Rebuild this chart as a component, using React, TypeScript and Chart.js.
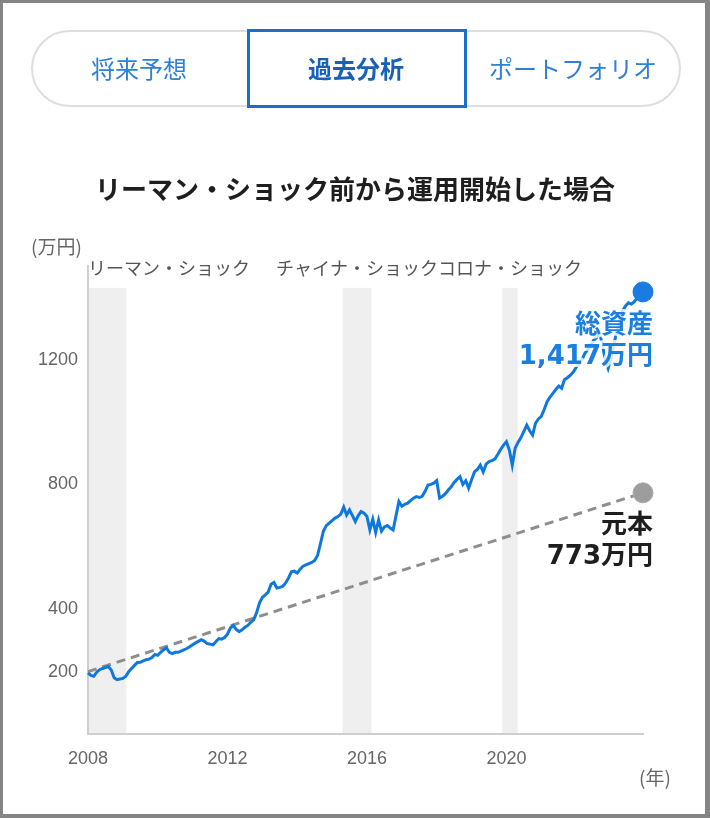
import React, { useEffect, useRef } from "react";
import { Chart, registerables } from "chart.js";

Chart.register(...registerables);

// ---- data ----
const START_YEAR = 2008;
const assets2008 = [196, 188, 185, 198, 206, 210, 213, 216, 205, 180, 174, 176];
const assets2009 = [178, 185, 200, 210, 220, 229, 230, 234, 238, 240, 245, 255];
const assets2010 = [252, 262, 270, 276, 262, 258, 262, 262, 266, 270, 274, 280];
const assets2011 = [286, 292, 297, 302, 298, 290, 288, 286, 296, 306, 304, 309];
const assets2012 = [320, 340, 348, 335, 328, 334, 342, 348, 358, 366, 388, 420];
const assets2013 = [438, 446, 455, 480, 486, 468, 470, 473, 484, 500, 520, 522];
const assets2014 = [516, 528, 538, 542, 546, 550, 556, 572, 610, 650, 668, 676];
const assets2015 = [684, 692, 697, 705, 727, 702, 718, 700, 681, 700, 713, 708];
const assets2016 = [697, 654, 688, 646, 686, 650, 664, 668, 660, 654, 700, 745];
const assets2017 = [730, 736, 740, 748, 756, 761, 758, 762, 778, 798, 800, 804];
const assets2018 = [812, 756, 762, 770, 782, 792, 806, 816, 825, 800, 812, 788];
const assets2019 = [815, 840, 848, 862, 840, 865, 873, 876, 881, 896, 912, 926];
const assets2020 = [937, 910, 862, 916, 935, 950, 970, 990, 972, 958, 996, 1010];
const assets2021 = [1018, 1040, 1065, 1080, 1092, 1104, 1115, 1108, 1136, 1142, 1150, 1160];
const assets2022 = [1175, 1186, 1200, 1220, 1232, 1246, 1262, 1270, 1285, 1250, 1200, 1172];
const assets2023 = [1205, 1250, 1290, 1326, 1356, 1372, 1382, 1378, 1386, 1397, 1405, 1417];

const totalAssets = [
  ...assets2008, ...assets2009, ...assets2010, ...assets2011,
  ...assets2012, ...assets2013, ...assets2014, ...assets2015,
  ...assets2016, ...assets2017, ...assets2018, ...assets2019,
  ...assets2020, ...assets2021, ...assets2022, ...assets2023,
];

const principalStart = 200;
const principalEnd = 773;

const xTickValues = [2008, 2012, 2016, 2020];
const yTickValues = [200, 400, 800, 1200];

const shockNames = ["リーマン・ショック", "チャイナ・ショック", "コロナ・ショック"];
const shockStarts = [2008.0, 2015.3, 2019.88];
const shockEnds = [2009.1, 2016.13, 2020.32];
const shockTopValue = 1430;

const tabLabels = ["将来予想", "過去分析", "ポートフォリオ"];
const chartTitle = "リーマン・ショック前から運用開始した場合";
const totalLabel = "総資産";
const principalLabel = "元本";
const yUnit = "(万円)";
const xUnit = "(年)";

const monthX = (i: number) => START_YEAR + i / 12;
const lastX = monthX(totalAssets.length - 1);

const JP = "'Noto Sans CJK JP', sans-serif";
const NUMJP = "'DejaVu Sans', 'Noto Sans CJK JP', sans-serif";
const BLUE = "#0f78dd";
const GRAY_LINE = "#8e8e8e";

function haloText(ctx: CanvasRenderingContext2D, text: string, x: number, y: number, color: string) {
  ctx.save();
  ctx.lineJoin = "round";
  ctx.strokeStyle = "rgba(255,255,255,0.8)";
  ctx.lineWidth = 6;
  ctx.strokeText(text, x, y);
  ctx.fillStyle = color;
  ctx.fillText(text, x, y);
  ctx.restore();
}

const bandsPlugin = {
  id: "bands",
  beforeDraw(chart: any) {
    const { ctx, chartArea, scales } = chart;
    const xs = scales.x;
    const ys = scales.y;
    const top = ys.getPixelForValue(shockTopValue);
    ctx.save();
    ctx.fillStyle = "#efefef";
    shockStarts.forEach((s, i) => {
      const x0 = xs.getPixelForValue(s);
      const x1 = xs.getPixelForValue(shockEnds[i]);
      ctx.fillRect(x0, top, x1 - x0, chartArea.bottom - top);
    });
    ctx.restore();
  },
  afterDraw(chart: any) {
    const { ctx, chartArea, scales } = chart;
    const xs = scales.x;
    const ys = scales.y;
    const top = ys.getPixelForValue(shockTopValue);
    ctx.save();
    // band labels
    ctx.font = `18px ${JP}`;
    ctx.fillStyle = "#555";
    ctx.textBaseline = "middle";
    shockNames.forEach((name, i) => {
      const c = (xs.getPixelForValue(shockStarts[i]) + xs.getPixelForValue(shockEnds[i])) / 2;
      const w = ctx.measureText(name).width;
      let left = c - w / 2;
      if (left < chartArea.left) left = chartArea.left;
      ctx.textAlign = "left";
      ctx.fillText(name, left, top - 20);
    });
    // units
    ctx.font = `19px ${JP}`;
    ctx.fillStyle = "#666";
    ctx.textAlign = "left";
    ctx.fillText(yUnit, 31, 247);
    ctx.fillText(xUnit, 639, 778);

    // end labels
    const tMeta = chart.getDatasetMeta(0);
    const pMeta = chart.getDatasetMeta(1);
    const tp = tMeta.data[tMeta.data.length - 1];
    const pp = pMeta.data[pMeta.data.length - 1];
    const lastTotal = totalAssets[totalAssets.length - 1];
    ctx.textAlign = "right";
    ctx.textBaseline = "middle";
    ctx.font = `bold 26px ${NUMJP}`;
    haloText(ctx, totalLabel, tp.x + 10, tp.y + 34, "#1a7fe0");
    haloText(ctx, `${lastTotal.toLocaleString("en-US")}万円`, tp.x + 10, tp.y + 65, "#1a7fe0");
    haloText(ctx, principalLabel, pp.x + 10, pp.y + 33, "#1e1e1e");
    haloText(ctx, `${principalEnd}万円`, pp.x + 10, pp.y + 64, "#1e1e1e");
    ctx.restore();
  },
};

function ChartCanvas() {
  const ref = useRef<HTMLCanvasElement | null>(null);
  useEffect(() => {
    if (!ref.current) return;
    const lastIdx = totalAssets.length - 1;
    const chart = new Chart(ref.current, {
      type: "line",
      data: {
        datasets: [
          {
            label: "総資産",
            data: totalAssets.map((v, i) => ({ x: monthX(i), y: v })),
            borderColor: BLUE,
            borderWidth: 3,
            tension: 0,
            clip: false as any,
            pointRadius: (c: any) => (c.dataIndex === lastIdx ? 10 : 0),
            pointBackgroundColor: "#1a7be3",
            pointBorderColor: "#1a7be3",
            pointBorderWidth: 1,
            pointHoverRadius: 0,
          },
          {
            label: "元本",
            data: [
              { x: START_YEAR, y: principalStart },
              { x: lastX, y: principalEnd },
            ],
            borderColor: GRAY_LINE,
            borderWidth: 3,
            borderDash: [9, 6],
            clip: false as any,
            pointRadius: (c: any) => (c.dataIndex === 1 ? 10 : 0),
            pointBackgroundColor: "#9d9d9d",
            pointBorderColor: "#ababab",
            pointBorderWidth: 1,
            pointHoverRadius: 0,
          },
        ],
      },
      options: {
        animation: false,
        responsive: false,
        events: [],
        layout: { padding: { left: 18, right: 67, top: 266, bottom: 44 } },
        plugins: { legend: { display: false }, tooltip: { enabled: false }, title: { display: false } },
        scales: {
          x: {
            type: "linear",
            min: START_YEAR,
            max: lastX,
            afterBuildTicks: (s: any) => {
              s.ticks = xTickValues.map((v) => ({ value: v }));
            },
            afterFit: (s: any) => {
              s.height = 40;
            },
            grid: { display: false, drawTicks: false },
            border: { display: true, color: "#cfcfcf", width: 2 },
            ticks: {
              autoSkip: false,
              maxRotation: 0,
              padding: 14,
              color: "#666",
              font: { family: "'Liberation Sans', Arial, sans-serif", size: 18 },
              callback: (v: any) => String(v),
            },
          },
          y: {
            type: "linear",
            min: 0,
            max: 1500,
            afterBuildTicks: (s: any) => {
              s.ticks = yTickValues.map((v) => ({ value: v }));
            },
            afterFit: (s: any) => {
              s.width = 70;
            },
            grid: { display: false, drawTicks: false },
            border: { display: true, color: "#cfcfcf", width: 2 },
            ticks: {
              padding: 10,
              color: "#666",
              font: { family: "'Liberation Sans', Arial, sans-serif", size: 18 },
              callback: (v: any) => String(v),
            },
          },
        },
      },
      plugins: [bandsPlugin],
    } as any);
    return () => chart.destroy();
  }, []);
  return (
    <canvas
      ref={ref}
      width={710}
      height={818}
      style={{ position: "absolute", left: 0, top: 0, width: 710, height: 818 }}
    />
  );
}

export default function App() {
  const tabCenters = [139, 356, 573];
  return (
    <div
      style={{
        position: "absolute",
        left: 0,
        top: 0,
        width: 710,
        height: 818,
        background: "#fff",
        overflow: "hidden",
        fontFamily: JP,
      }}
    >
      <ChartCanvas />
      {/* tabs */}
      <div
        style={{
          position: "absolute",
          left: 31,
          top: 30,
          width: 650,
          height: 77,
          boxSizing: "border-box",
          border: "2px solid #dedede",
          borderRadius: 40,
        }}
      />
      <div
        style={{
          position: "absolute",
          left: 247,
          top: 29,
          width: 220,
          height: 79,
          boxSizing: "border-box",
          border: "3px solid #1a6fc9",
          background: "#fff",
        }}
      />
      {tabLabels.map((t, i) => (
        <div
          key={t}
          style={{
            position: "absolute",
            left: tabCenters[i] - 110,
            width: 220,
            top: 54,
            height: 28,
            lineHeight: "28px",
            textAlign: "center",
            fontSize: 24,
            fontWeight: i === 1 ? 700 : 400,
            color: i === 1 ? "#1761b8" : "#2f80d2",
            whiteSpace: "nowrap",
          }}
        >
          {t}
        </div>
      ))}
      {/* title */}
      <div
        style={{
          position: "absolute",
          left: 0,
          width: 710,
          top: 174,
          height: 28,
          lineHeight: "28px",
          textAlign: "center",
          fontSize: 26,
          fontWeight: 700,
          color: "#1e1e1e",
          whiteSpace: "nowrap",
        }}
      >
        {chartTitle}
      </div>
      {/* frame */}
      <div
        style={{
          position: "absolute",
          left: 0,
          top: 0,
          width: 710,
          height: 818,
          boxSizing: "border-box",
          borderStyle: "solid",
          borderColor: "#858585",
          borderWidth: "3px 5px 4px 3px",
          pointerEvents: "none",
        }}
      />
    </div>
  );
}
